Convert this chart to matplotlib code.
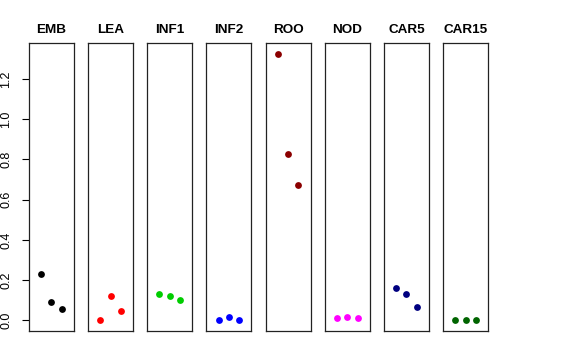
import matplotlib
matplotlib.use("Agg")
import matplotlib.pyplot as plt
import numpy as np

plt.rcParams["font.family"] = ["Liberation Sans", "DejaVu Sans"]

# tissues and their expression values (3 replicates each)
tissues = ["EMB", "LEA", "INF1", "INF2", "ROO", "NOD", "CAR5", "CAR15"]
emb = [0.229, 0.090, 0.057]
lea = [0.000, 0.123, 0.044]
inf1 = [0.130, 0.120, 0.103]
inf2 = [0.000, 0.019, 0.001]
roo = [1.326, 0.827, 0.672]
nod = [0.014, 0.019, 0.012]
car5 = [0.160, 0.132, 0.064]
car15 = [0.001, 0.001, 0.001]
colors = ["black", "red", "#00CD00", "blue", "#8B0000", "magenta", "#000080", "#006400"]

values = [emb, lea, inf1, inf2, roo, nod, car5, car15]

fig, axes = plt.subplots(1, len(tissues), figsize=(5.76, 3.6), dpi=100, sharey=True)
fig.subplots_adjust(left=29/576, right=488/576, bottom=1-331/360, top=1-43/360, wspace=0.318)

ymax = max(max(v) for v in values)
ext = 0.04 * ymax
for ax, name, vals, col in zip(axes, tissues, values, colors):
    x = np.arange(1, len(vals) + 1)
    ax.scatter(x, vals, s=24, color=col, zorder=3, linewidths=0)
    ax.set_xlim(-0.16, 4.16)
    ax.set_ylim(-ext, ymax + ext)
    ax.set_title(name, fontsize=9.7, fontweight="bold", pad=7)
    ax.set_xticks([])
    for sp in ax.spines.values():
        sp.set_linewidth(0.9)
        sp.set_color("#222222")
    if ax is not axes[0]:
        ax.tick_params(axis="y", left=False, labelleft=False)

axes[0].set_yticks([0.0, 0.2, 0.4, 0.6, 0.8, 1.0, 1.2])
axes[0].set_yticklabels(["0.0", "0.2", "0.4", "0.6", "0.8", "1.0", "1.2"],
                        rotation=90, va="center")
axes[0].tick_params(axis="y", length=5, width=0.8, labelsize=9, pad=7)

fig.savefig("out.png", dpi=100)
